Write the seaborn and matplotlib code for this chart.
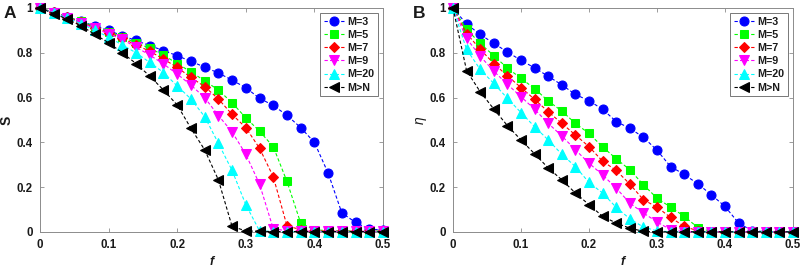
import numpy as np
import pandas as pd
import matplotlib
matplotlib.use("Agg")
import matplotlib.pyplot as plt
import seaborn as sns

f = [round(0.02 * i, 2) for i in range(26)]
labels = ["M=3", "M=5", "M=7", "M=9", "M=20", "M>N"]

S_M3 = [1.0, 0.98, 0.96, 0.94, 0.92, 0.90, 0.876, 0.855, 0.832, 0.81, 0.787, 0.762, 0.736, 0.71, 0.678, 0.644,
        0.597, 0.565, 0.521, 0.466, 0.40, 0.263, 0.085, 0.043, 0.012, 0.01]
S_M5 = [1.0, 0.98, 0.96, 0.94, 0.916, 0.895, 0.87, 0.845, 0.82, 0.79, 0.752, 0.715, 0.675, 0.634, 0.577, 0.51,
        0.45, 0.381, 0.226, 0.04, 0.01, 0.006, 0.005, 0.004, 0.004, 0.004]
S_M7 = [1.0, 0.98, 0.958, 0.936, 0.912, 0.89, 0.865, 0.835, 0.807, 0.772, 0.735, 0.69, 0.649, 0.594, 0.525, 0.466,
        0.374, 0.247, 0.028, 0.01, 0.005, 0.004, 0.004, 0.003, 0.003, 0.003]
S_M9 = [1.0, 0.978, 0.956, 0.933, 0.909, 0.885, 0.86, 0.825, 0.79, 0.75, 0.705, 0.656, 0.60, 0.52, 0.447, 0.347,
        0.214, 0.015, 0.005, 0.004, 0.003, 0.003, 0.003, 0.003, 0.003, 0.003]
S_M20 = [1.0, 0.978, 0.955, 0.93, 0.90, 0.87, 0.835, 0.80, 0.757, 0.712, 0.652, 0.594, 0.515, 0.396, 0.275, 0.122,
         0.005, 0.002, 0.002, 0.002, 0.002, 0.002, 0.002, 0.002, 0.002, 0.002]
S_MN = [1.0, 0.975, 0.95, 0.92, 0.882, 0.845, 0.80, 0.752, 0.696, 0.634, 0.567, 0.463, 0.367, 0.233, 0.025, 0.005,
        0.003, 0.002, 0.002, 0.002, 0.002, 0.002, 0.002, 0.002, 0.002, 0.002]

E_M3 = [1.0, 0.928, 0.882, 0.842, 0.804, 0.766, 0.733, 0.695, 0.657, 0.614, 0.586, 0.548, 0.493, 0.463, 0.423, 0.365,
        0.292, 0.257, 0.215, 0.166, 0.114, 0.04, 0.005, 0.002, 0.002, 0.002]
E_M5 = [1.0, 0.905, 0.842, 0.787, 0.732, 0.686, 0.64, 0.585, 0.54, 0.485, 0.44, 0.38, 0.327, 0.278, 0.211, 0.151,
        0.111, 0.07, 0.02, 0.002, 0.001, 0.001, 0.001, 0.001, 0.001, 0.001]
E_M7 = [1.0, 0.886, 0.816, 0.752, 0.697, 0.645, 0.592, 0.537, 0.485, 0.433, 0.381, 0.316, 0.275, 0.214, 0.144, 0.111,
        0.065, 0.025, 0.005, 0.001, 0.001, 0.001, 0.001, 0.001, 0.001, 0.001]
E_M9 = [1.0, 0.864, 0.785, 0.718, 0.659, 0.604, 0.548, 0.485, 0.429, 0.367, 0.307, 0.255, 0.196, 0.129, 0.085, 0.045,
        0.01, 0.001, 0.001, 0.001, 0.001, 0.001, 0.001, 0.001, 0.001, 0.001]
E_M20 = [1.0, 0.815, 0.726, 0.663, 0.597, 0.533, 0.47, 0.411, 0.347, 0.292, 0.221, 0.174, 0.11, 0.059, 0.022, 0.005,
         0.001, 0.001, 0.001, 0.001, 0.001, 0.001, 0.001, 0.001, 0.001, 0.001]
E_MN = [1.0, 0.72, 0.626, 0.549, 0.475, 0.411, 0.349, 0.286, 0.233, 0.174, 0.122, 0.07, 0.04, 0.017, 0.003, 0.001,
        0.001, 0.001, 0.001, 0.001, 0.001, 0.001, 0.001, 0.001, 0.001, 0.001]

S_series = [S_M3, S_M5, S_M7, S_M9, S_M20, S_MN]
E_series = [E_M3, E_M5, E_M7, E_M9, E_M20, E_MN]

colors = ["#0000ff", "#00ff00", "#ff0000", "#ff00ff", "#00ffff", "#000000"]
markers = ["o", "s", "D", "v", "^", "<"]
msizes = [6.5, 5.5, 5.5, 6.5, 6.5, 6.5]

sns.set_style("ticks")
plt.rcParams['font.family'] = ['Liberation Sans', 'DejaVu Sans']
plt.rcParams['font.weight'] = 'bold'

fig = plt.figure(figsize=(8.03, 2.68), dpi=100)
axA = fig.add_axes([40 / 803, 36 / 268, 343 / 803, 224 / 268])
axB = fig.add_axes([453 / 803, 36 / 268, 340 / 803, 224 / 268])

SPINE = "#8c8c8c"
TXT = "#1a1a1a"


def draw(ax, series, ylabel, width_px):
    for lab, vals, c, m, ms in zip(labels, series, colors, markers, msizes):
        df = pd.DataFrame({"f": f, "v": vals})
        sns.lineplot(data=df, x="f", y="v", ax=ax, color=c, marker=m, markersize=ms,
                     markeredgecolor=c, markerfacecolor=c, linestyle=(0, (3, 2)), linewidth=0.8,
                     label=lab, clip_on=False, zorder=3)
    ax.set_xlim(0, 0.5)
    ax.set_ylim(0, 1)
    ax.set_xticks([0, 0.1, 0.2, 0.3, 0.4, 0.5])
    ax.set_xticklabels(["0", "0.1", "0.2", "0.3", "0.4", "0.5"])
    ax.set_yticks([0, 0.2, 0.4, 0.6, 0.8, 1.0])
    ax.set_yticklabels(["0", "0.2", "0.4", "0.6", "0.8", "1"])
    ax.tick_params(direction="in", length=3, width=0.6, top=True, right=True,
                   labelsize=8.3, color=SPINE, labelcolor=TXT, pad=5)
    for lbl in ax.get_xticklabels() + ax.get_yticklabels():
        lbl.set_fontweight("bold")
    for sp in ax.spines.values():
        sp.set_visible(True)
        sp.set_linewidth(0.7)
        sp.set_color(SPINE)
    ax.set_xlabel("f", fontsize=9, fontweight="bold", fontstyle="italic", color=TXT)
    ax.xaxis.set_label_coords(0.5, -24 / 224)
    ax.set_ylabel(ylabel, fontsize=10, fontweight="bold", color=TXT)
    ax.yaxis.set_label_coords(-26 / width_px, 0.5)
    leg = ax.legend(loc="upper right", fontsize=7.7, frameon=True, fancybox=False,
                    handlelength=1.9, handletextpad=0.3, labelspacing=0.3,
                    borderpad=0.35, borderaxespad=0.45, markerscale=1.0)
    leg.get_frame().set_edgecolor("#555555")
    leg.get_frame().set_linewidth(0.7)
    for t in leg.get_texts():
        t.set_fontweight("bold")
        t.set_color(TXT)
    return ax


draw(axA, S_series, "S", 343)
draw(axB, E_series, "η", 340)
axB.yaxis.label.set_fontstyle("italic")
axB.yaxis.label.set_fontweight("normal")

fig.text(4 / 803, 1 - 13 / 268, "A", fontsize=12.5, fontweight="bold", va="center", ha="left", color=TXT)
fig.text(413 / 803, 1 - 13 / 268, "B", fontsize=12.5, fontweight="bold", va="center", ha="left", color=TXT)

fig.savefig("out.png", dpi=100)
